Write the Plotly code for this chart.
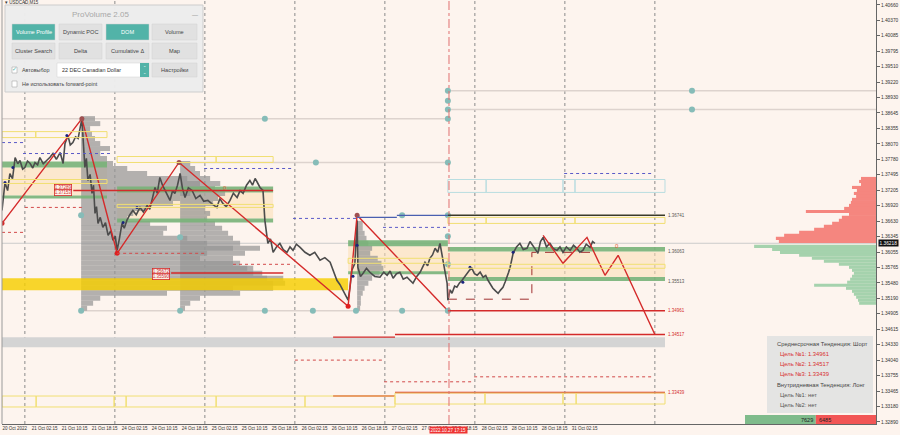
import plotly.graph_objects as go

# ---------------- data ----------------
H_MAX = 233.07                      # chart hours shown (20 Oct 02:15 = 0)
P_MIN, P_MAX = 1.32851, 1.40750

time_tick_hours = [0, 8, 16, 24, 32, 40, 48, 56, 64, 72, 80, 88, 96, 104, 112, 120, 128, 136, 144, 152]
time_tick_labels = ["20 Oct 2022", "21 Oct 02:15", "21 Oct 10:15", "21 Oct 18:15", "24 Oct 02:15",
                    "24 Oct 10:15", "24 Oct 18:15", "25 Oct 02:15", "25 Oct 10:15", "25 Oct 18:15",
                    "26 Oct 02:15", "26 Oct 10:15", "26 Oct 18:15", "27 Oct 02:15", "27 Oct 10:15",
                    "27 Oct 18:15", "28 Oct 02:15", "28 Oct 10:15", "28 Oct 18:15", "31 Oct 02:15"]
price_ticks = [1.40660, 1.40370, 1.40085, 1.39795, 1.39510, 1.39220, 1.38930, 1.38645, 1.38355, 1.38070,
               1.37780, 1.37495, 1.37205, 1.36920, 1.36630, 1.36345, 1.36055, 1.35765, 1.35480, 1.35190,
               1.34905, 1.34615, 1.34330, 1.34040, 1.33755, 1.33465, 1.33180, 1.32890]
day_separators = [6.1, 30.1, 54.1, 78.1, 102.1, 126.1, 150.1, 174.1]
signal_time = 119.2
signal_label = "2022.10.27 17:15"
current_price = 1.36218

price_h = [0.0, 0.8, 1.5, 2.1, 2.8, 3.5, 4.2, 4.8, 5.5, 6.1, 6.8, 7.5, 8.2, 8.8, 9.5, 10.1, 11.0, 12.0, 12.8, 13.6,
           14.5, 15.5, 16.3, 16.8, 17.6, 18.2, 18.9, 19.6, 20.3, 21.3, 21.6, 22.1, 22.5, 22.9, 23.5, 24.0, 24.4,
           24.8, 25.2, 25.6, 26.2, 26.9, 27.6, 28.3, 29.0, 29.6, 30.2, 30.7, 31.3, 32.0, 32.6, 33.3, 34.1, 34.9,
           35.8, 36.8, 37.7, 38.7, 39.4, 40.0, 40.8, 41.4, 42.1, 42.8, 43.5, 44.2, 44.8, 45.5, 46.1, 46.8, 47.5,
           48.1, 48.8, 49.7, 50.7, 51.7, 52.8, 53.8, 54.9, 56.0, 57.3, 58.1, 58.9, 59.8, 60.8, 61.7, 62.7, 63.5,
           64.3, 65.2, 66.1, 66.8, 67.5, 68.1, 68.8, 69.6, 70.1, 70.9, 71.6, 72.3, 73.2, 74.1, 75.0, 76.0, 76.8,
           77.6, 78.5, 79.5, 80.8, 82.1, 83.4, 84.8, 86.1, 87.5, 88.4, 89.3, 90.1, 90.9, 91.6, 92.3, 92.8, 93.3,
           94.1, 94.7, 94.9, 95.6, 96.3, 97.2, 98.1, 99.4, 100.8, 101.8, 102.7, 103.5, 104.3, 105.2, 106.1,
           107.0, 108.0, 108.8, 109.6, 110.6, 111.5, 112.2, 112.8, 113.5, 114.1, 114.8, 115.5, 116.2, 116.8,
           117.6, 118.2, 118.7, 118.9, 119.5, 120.0, 120.7, 121.3, 122.0, 122.7, 123.4, 124.0, 124.7, 125.3,
           126.0, 126.7, 127.5, 128.3, 129.0, 129.6, 130.3, 130.9, 131.6, 132.3, 133.0, 133.6, 134.2, 134.7,
           135.1, 135.5, 135.9, 136.3, 137.2, 138.1, 139.0, 140.0, 140.8, 141.6, 142.3, 142.9, 143.6, 144.3,
           145.2, 146.1, 147.0, 148.0, 148.8, 149.6, 150.5, 151.5, 152.4, 153.3, 154.1, 154.9, 155.8, 156.8,
           157.5, 158.1]
price_p = [1.36830, 1.37351, 1.37200, 1.37518, 1.37420, 1.37815, 1.37700, 1.37760, 1.37600, 1.37630, 1.37750,
           1.37704, 1.37620, 1.37722, 1.37680, 1.37815, 1.37700, 1.37760, 1.37820, 1.37890, 1.37780, 1.37908,
           1.37704, 1.38076, 1.38224, 1.38050, 1.38094, 1.38200, 1.38169, 1.38540, 1.38187, 1.37630, 1.37800,
           1.37388, 1.37500, 1.37146, 1.37300, 1.36774, 1.36900, 1.36588, 1.36700, 1.36514, 1.36600, 1.36365,
           1.36450, 1.36272, 1.36350, 1.36086, 1.36300, 1.36588, 1.36500, 1.36644, 1.36750, 1.36830, 1.36750,
           1.36886, 1.36800, 1.36923, 1.36850, 1.37016, 1.37258, 1.37150, 1.37444, 1.37300, 1.37202, 1.37100,
           1.37016, 1.37200, 1.37146, 1.37300, 1.37518, 1.37250, 1.37072, 1.37250, 1.37202, 1.37050, 1.37109,
           1.37000, 1.37016, 1.36950, 1.36886, 1.37050, 1.36960, 1.36900, 1.37016, 1.37150, 1.37072, 1.37200,
           1.37146, 1.37300, 1.37388, 1.37300, 1.37425, 1.37350, 1.37258, 1.37202, 1.36644, 1.36217, 1.36300,
           1.36049, 1.36150, 1.36217, 1.36100, 1.36049, 1.36150, 1.36086, 1.36200, 1.36142, 1.36050, 1.35994,
           1.36050, 1.35901, 1.35950, 1.35864, 1.35700, 1.35529, 1.35450, 1.35343, 1.35250, 1.35157, 1.35400,
           1.35715, 1.35845, 1.36644, 1.35771, 1.35600, 1.35659, 1.35750, 1.35678, 1.35600, 1.35585, 1.35680,
           1.35622, 1.35700, 1.35566, 1.35650, 1.35678, 1.35550, 1.35585, 1.35520, 1.35473, 1.35600, 1.35678,
           1.35780, 1.35864, 1.35800, 1.35938, 1.36000, 1.36124, 1.36050, 1.36217, 1.35901, 1.35700, 1.35473,
           1.35157, 1.35350, 1.35287, 1.35420, 1.35399, 1.35480, 1.35529, 1.35600, 1.35659, 1.35720, 1.35752,
           1.35650, 1.35622, 1.35680, 1.35585, 1.35620, 1.35529, 1.35450, 1.35380, 1.35330, 1.35287, 1.35350,
           1.35399, 1.35500, 1.35585, 1.35680, 1.35771, 1.35900, 1.36031, 1.36150, 1.36217, 1.36100, 1.36124,
           1.36250, 1.36180, 1.36100, 1.36031, 1.36250, 1.36328, 1.36150, 1.36217, 1.36120, 1.36086, 1.36150,
           1.36049, 1.36150, 1.36086, 1.36180, 1.36124, 1.36050, 1.36086, 1.36200, 1.36142, 1.36250, 1.36217]

zigzag_h = [0.0, 21.3, 30.7, 47.2, 92.3, 94.7, 118.9]
zigzag_p = [1.36589, 1.38540, 1.36031, 1.37723, 1.35046, 1.36741, 1.34961]
forecast_h = [144.3, 149.6, 156.0, 160.8, 164.3, 174.1]
forecast_p = [1.36365, 1.35845, 1.36328, 1.35622, 1.35994, 1.34517]

swing_h = [0.8, 2.9, 17.3, 32.3, 36.0, 94.7, 93.6, 122.9, 124.8, 136.3]
swing_p = [1.37351, 1.37630, 1.38224, 1.36607, 1.36886, 1.36180, 1.35603, 1.35492, 1.35771, 1.36049]

dots_h = [118.9, 118.9, 118.9, 118.9, 118.9, 184.0, 184.0, 70.1, 83.7, 21.1, 47.5, 106.7, 118.9, 118.9,
          118.9, 21.1, 47.5, 70.1, 82.9, 94.4, 106.7, 118.9]
dots_p = [1.39061, 1.38875, 1.38708, 1.38540, 1.37723, 1.39061, 1.38708, 1.38540, 1.37723, 1.36741, 1.36328,
          1.36741, 1.36741, 1.36347, 1.35826, 1.34961, 1.34961, 1.34961, 1.34961, 1.34961, 1.34961, 1.34961]

profile_prices = [1.38540, 1.38447, 1.38354, 1.38262, 1.38169, 1.38076, 1.37983, 1.37890, 1.37797, 1.37704,
                  1.37611, 1.37518, 1.37425, 1.37332, 1.37239, 1.37146, 1.37053, 1.36960, 1.36867, 1.36774,
                  1.36681, 1.36588, 1.36496, 1.36403, 1.36310, 1.36217, 1.36124, 1.36031, 1.35938, 1.35845,
                  1.35752, 1.35659, 1.35566, 1.35473, 1.35380, 1.35287, 1.35194, 1.35101, 1.35008]
profile1_start = 21.1
profile1_len = [3.7, 5.1, 2.4, 2.9, 3.7, 5.1, 7.7, 5.1, 6.9, 8.5, 12.3, 17.6, 28.3, 31.7, 33.6, 29.1, 26.4,
                24.5, 17.6, 13.9, 12.3, 18.4, 22.9, 21.9, 28.3, 33.6, 40.5, 33.6, 31.7, 40.5, 44.3, 45.9,
                49.6, 51.2, 40.5, 22.9, 5.1, 3.2, 1.6]
profile2_start = 47.5
profile2_prices = profile_prices[9:]
profile2_len = [2.7, 4.0, 5.3, 8.0, 10.7, 9.3, 12.0, 10.1, 8.8, 6.7, 8.0, 7.2, 9.3, 11.2, 12.8, 14.1, 16.0,
                21.3, 17.3, 14.1, 16.0, 19.5, 21.9, 27.5, 28.0, 24.8, 16.0, 5.3, 2.7, 1.3]
profile3_start = 94.7
profile3_prices = profile_prices[21:]
profile3_len = [1.5, 1.5, 2.0, 2.5, 3.0, 4.0, 3.5, 5.5, 6.5, 7.0, 6.0, 4.0, 3.0, 2.0, 1.5, 1.0, 1.0, 0.8]

dom_ask_prices = [1.37425, 1.37369, 1.37313, 1.37258, 1.37202, 1.37146, 1.37090, 1.37035, 1.36979, 1.36923,
                  1.36867, 1.36811, 1.36756, 1.36700, 1.36644, 1.36588, 1.36533, 1.36477, 1.36421, 1.36365,
                  1.36310, 1.36254]
dom_ask_size = [4.0, 4.5, 4.0, 6.4, 5.1, 5.9, 5.3, 6.4, 6.7, 7.2, 8.5, 18.7, 7.2, 9.1, 9.9, 11.7, 13.9, 16.5,
                20.5, 24.5, 26.7, 25.9]
dom_bid_prices = [1.36161, 1.36105, 1.36049, 1.35994, 1.35938, 1.35882, 1.35826, 1.35771, 1.35715, 1.35659,
                  1.35603, 1.35548, 1.35492, 1.35436, 1.35380, 1.35324, 1.35269, 1.35213, 1.35157, 1.35101]
dom_bid_size = [32.5, 27.7, 25.6, 20.5, 17.1, 13.9, 9.9, 7.2, 6.4, 5.9, 6.4, 6.9, 7.7, 16.5, 8.0, 6.4, 5.9,
                5.3, 4.8, 4.5]
dom_buy_total, dom_sell_total = 7629, 6485

zone_start = [0.0, 30.7, 92.3, 118.9]
zone_end = [28.0, 72.3, 118.9, 176.8]
zone_top_hi = [1.37741, 1.37276, 1.36272, 1.36150]
zone_top_lo = [1.37630, 1.37165, 1.36161, 1.36063]
zone_bot_hi = [1.37109, 1.36681, 1.35696, 1.35590]
zone_bot_lo = [1.37053, 1.36607, 1.35641, 1.35513]
yellow_band = (0.0, 92.3, 1.35566, 1.35343)
gray_band = (0.0, 176.8, 1.34469, 1.34283)

yellow_boxes = [(0, 9.0, 1.38298, 1.38187), (9.0, 28.0, 1.38298, 1.38187), (0, 28.0, 1.37406, 1.37332),
                (30.7, 57.1, 1.37834, 1.37723), (57.1, 72.3, 1.37834, 1.37723), (30.7, 72.3, 1.36942, 1.36886),
                (118.9, 129.1, 1.36700, 1.36588), (129.1, 149.6, 1.36700, 1.36588),
                (149.6, 152.8, 1.36700, 1.36588), (152.8, 176.8, 1.36700, 1.36588),
                (92.3, 118.9, 1.35938, 1.35845), (118.9, 176.8, 1.35826, 1.35752),
                (0, 9.1, 1.33372, 1.33168), (9.1, 29.9, 1.33372, 1.33168), (29.9, 33.1, 1.33372, 1.33168),
                (33.1, 57.1, 1.33372, 1.33168), (57.1, 80.8, 1.33372, 1.33168), (80.8, 104.8, 1.33372, 1.33168),
                (104.8, 128.8, 1.33428, 1.33223), (128.8, 149.6, 1.33428, 1.33223),
                (149.6, 153.1, 1.33428, 1.33223), (153.1, 176.8, 1.33428, 1.33223)]
cyan_boxes = [(118.9, 129.1, 1.37406, 1.37165), (129.1, 149.6, 1.37406, 1.37165),
              (149.6, 152.8, 1.37406, 1.37165), (152.8, 176.8, 1.37406, 1.37165)]

gray_levels = [(118.9, H_MAX, 1.39061), (118.9, H_MAX, 1.38708), (0.0, 118.9, 1.38540),
               (47.2, 118.9, 1.37723), (21.1, 118.9, 1.34961)]
red_levels = [(118.9, 176.8, 1.34961), (88.3, 104.8, 1.34469), (104.8, 176.8, 1.34517),
              (88.3, 104.8, 1.33372), (104.8, 176.8, 1.33439), (19.0, 72.3, 1.37202), (45.1, 75.0, 1.35665)]
red_dotted = [(78.1, 101.9, 1.34041), (101.9, 125.9, 1.33637), (125.9, 173.9, 1.33730), (0, 5.6, 1.36421),
              (6.1, 21.3, 1.36886), (30.7, 53.9, 1.36031), (61.6, 77.6, 1.35826)]
blue_dotted = [(0, 5.6, 1.38094), (5.6, 29.6, 1.37890), (53.9, 77.6, 1.37611), (77.6, 94.7, 1.36681),
               (101.6, 118.9, 1.36514), (149.9, 173.9, 1.37518)]
blue_solid = [(94.7, 105.3, 1.36700), (105.3, 118.9, 1.36737)]
dark_solid = [(118.9, 176.8, 1.36741)]
range_path_h = [118.9, 141.3, 141.3, 157.5]
range_path_p = [1.35176, 1.35176, 1.36049, 1.36049]

level_labels = [("1.36741", 1.36741, "#555555"), ("1.36063", 1.36063, "#555555"), ("1.35513", 1.35513, "#555555"),
                ("1.34961", 1.34961, "#d42a2a"), ("1.34517", 1.34517, "#d42a2a"), ("1.33439", 1.33439, "#d42a2a")]
box_labels = [("1.37289", 16.3, 1.37257), ("1.37153", 16.3, 1.37165), ("1.35672", 42.5, 1.35700),
              ("1.35590", 42.5, 1.35605)]
zero_marks = [(59.5, 1.37239), (164.0, 1.36170)]

# ---------------- styling helpers ----------------
FONT = "Liberation Sans, Arial, sans-serif"
BG = "#fdf4ee"
RED = "#d42a2a"
W_PLOT, H_PLOT = 874, 424


def px(X):
    return (X - 2) / W_PLOT


def py(Y):
    return 1 - Y / H_PLOT


shapes = []
annotations = []


def hline(h0, h1, p, color, width=1, dash="solid", layer="above"):
    shapes.append(dict(type="line", xref="x", yref="y", x0=h0, x1=h1, y0=p, y1=p,
                       line=dict(color=color, width=width, dash=dash), layer=layer))


def drect(h0, h1, p0, p1, fill="rgba(0,0,0,0)", line_color=None, lw=1, layer="above"):
    shapes.append(dict(type="rect", xref="x", yref="y", x0=h0, x1=h1, y0=p0, y1=p1, fillcolor=fill,
                       line=dict(color=line_color or "rgba(0,0,0,0)", width=lw if line_color else 0),
                       layer=layer))


def prect(X0, X1, Y0, Y1, fill, line_color=None, lw=1):
    shapes.append(dict(type="rect", xref="paper", yref="paper", x0=px(X0), x1=px(X1), y0=py(Y1), y1=py(Y0),
                       fillcolor=fill, line=dict(color=line_color or "rgba(0,0,0,0)",
                                                 width=lw if line_color else 0), layer="above"))


def ptext(X, Y, text, size=6, color="#444", anchor="left"):
    annotations.append(dict(xref="paper", yref="paper", x=px(X), y=py(Y), text=text,
                            showarrow=False, xanchor=anchor, yanchor="middle",
                            font=dict(family=FONT, size=size, color=color)))


fig = go.Figure()

# background zones (under profiles)
for i in range(len(zone_start)):
    drect(zone_start[i], zone_end[i], zone_bot_hi[i], zone_top_lo[i], fill="rgba(252,223,180,0.55)", layer="below")
drect(gray_band[0], gray_band[1], gray_band[2], gray_band[3], fill="#d4d4d4", layer="below")
for d in day_separators:
    shapes.append(dict(type="line", xref="x", yref="paper", x0=d, x1=d, y0=0, y1=1,
                       line=dict(color="#8a8a8a", width=1, dash="dot"), layer="below"))
hline(0, H_MAX, current_price, "#cccccc", 1, layer="below")
for h0, h1, p in gray_levels:
    hline(h0, h1, p, "#ddd3ce", 1.5, layer="below")

# volume profiles
for start, prices, lens in [(profile1_start, profile_prices, profile1_len),
                            (profile2_start, profile2_prices, profile2_len),
                            (profile3_start, profile3_prices, profile3_len)]:
    fig.add_trace(go.Bar(orientation="h", y=prices, x=lens, base=start, width=0.00093,
                         marker=dict(color="rgba(150,150,150,0.72)", line=dict(width=0)), hoverinfo="skip"))

# DOM
fig.add_trace(go.Bar(orientation="h", y=dom_ask_prices, x=[-v for v in dom_ask_size], base=H_MAX, width=0.00058,
                     marker=dict(color="#f5867f", line=dict(width=0)), hoverinfo="skip"))
fig.add_trace(go.Bar(orientation="h", y=dom_bid_prices, x=[-v for v in dom_bid_size], base=H_MAX, width=0.00058,
                     marker=dict(color="#a5d2ad", line=dict(width=0)), hoverinfo="skip"))


def rect_trace(rects, color):
    xs, ys = [], []
    for h0, h1, p0, p1 in rects:
        xs += [h0, h1, h1, h0, h0, None]
        ys += [p0, p0, p1, p1, p0, None]
    fig.add_trace(go.Scatter(x=xs, y=ys, mode="lines", fill="toself", fillcolor=color,
                             line=dict(width=0), hoverinfo="skip"))


rect_trace([yellow_band], "rgba(247,206,0,0.82)")
green_rects = []
for i in range(len(zone_start)):
    green_rects.append((zone_start[i], zone_end[i], zone_top_lo[i], zone_top_hi[i]))
    green_rects.append((zone_start[i], zone_end[i], zone_bot_lo[i], zone_bot_hi[i]))
rect_trace(green_rects, "rgba(120,178,120,0.9)")

# level lines
for h0, h1, p in red_levels:
    hline(h0, h1, p, RED, 1.4)
for h0, h1, p in red_dotted:
    hline(h0, h1, p, "#d24a4a", 1, "dot")
for h0, h1, p in blue_dotted:
    hline(h0, h1, p, "#5a5ac8", 1, "dot")
for h0, h1, p in blue_solid:
    hline(h0, h1, p, "#4a5fb0", 1.4)
for h0, h1, p in dark_solid:
    hline(h0, h1, p, "#3a3a2a", 1.4)
for h0, h1, p0, p1 in yellow_boxes:
    drect(h0, h1, p0, p1, line_color="#f1df72", lw=1)
for h0, h1, p0, p1 in cyan_boxes:
    drect(h0, h1, p0, p1, line_color="#b9dde0", lw=1)
shapes.append(dict(type="line", xref="x", yref="paper", x0=signal_time, x1=signal_time, y0=0, y1=1,
                   line=dict(color="#e07070", width=1, dash="dashdot"), layer="above"))

# price, zigzag, markers
fig.add_trace(go.Scatter(x=range_path_h, y=range_path_p, mode="lines",
                         line=dict(color="#a03030", width=1, dash="dash"), hoverinfo="skip"))
fig.add_trace(go.Scatter(x=price_h, y=price_p, mode="lines", line=dict(color="#4c4c4c", width=1.6),
                         hoverinfo="skip"))
fig.add_trace(go.Scatter(x=zigzag_h, y=zigzag_p, mode="lines+markers", line=dict(color=RED, width=1.4),
                         marker=dict(size=5, color=["#d42a2a", "#a05050", "#e02020", "#a05050", "#e02020", "#a05050",
                                                    "#5c9aa0"]), hoverinfo="skip"))
fig.add_trace(go.Scatter(x=forecast_h, y=forecast_p, mode="lines", line=dict(color=RED, width=1.4),
                         hoverinfo="skip"))
fig.add_trace(go.Scatter(x=swing_h, y=swing_p, mode="markers", marker=dict(size=3, color="#1a237e"),
                         hoverinfo="skip"))
fig.add_trace(go.Scatter(x=dots_h, y=dots_p, mode="markers", marker=dict(size=6, color="#86bcb8"),
                         hoverinfo="skip"))

# level labels
for text, p, color in level_labels:
    annotations.append(dict(x=177.2, y=p, xref="x", yref="y", text=text, showarrow=False, xanchor="left",
                            yanchor="middle", font=dict(family=FONT, size=4.5, color=color)))
for text, h, p in box_labels:
    annotations.append(dict(x=h, y=p, xref="x", yref="y", text=text, showarrow=False, xanchor="center",
                            yanchor="middle", bordercolor=RED, borderwidth=0.8, borderpad=0,
                            bgcolor="rgba(253,244,238,0.9)", font=dict(family=FONT, size=4.5, color=RED)))
for h, p in zero_marks:
    annotations.append(dict(x=h, y=p, xref="x", yref="y", text="0", showarrow=False,
                            font=dict(family=FONT, size=6, color="#e0603a")))

# current price & signal time labels
annotations.append(dict(xref="paper", yref="y", x=1, y=current_price, text="1.36218", showarrow=False,
                        xanchor="left", yanchor="middle", xshift=2, bgcolor="#111111", borderpad=0.5,
                        font=dict(family=FONT, size=4.8, color="white")))
annotations.append(dict(xref="x", yref="paper", x=signal_time, y=0, text=signal_label, showarrow=False,
                        xanchor="center", yanchor="top", yshift=-1.5, bgcolor="#ee3333", borderpad=0.5,
                        font=dict(family=FONT, size=4.5, color="white")))

# DOM totals bar
split = 745 + (876 - 745) * dom_buy_total / (dom_buy_total + dom_sell_total)
prect(745, split, 415, 424, "#7fbb8b")
prect(split, 876, 415, 424, "#f25555")
ptext(split - 1, 419.5, str(dom_buy_total), 5.5, "#222", "right")
ptext(split + 1, 419.5, str(dom_sell_total), 5.5, "#222", "left")

# info box
prect(767, 873, 336, 413, "rgba(226,226,226,0.93)")
ptext(775, 344, "Среднесрочная Тенденция: Шорт", 5.8, "#444")
ptext(778, 354, "Цель №1: 1.34961", 5.8, "#d83030")
ptext(778, 364, "Цель №2: 1.34517", 5.8, "#d83030")
ptext(778, 374, "Цель №3: 1.33439", 5.8, "#d83030")
ptext(775, 385, "Внутридневная Тенденция: Лонг", 5.8, "#444")
ptext(778, 395, "Цель №1: нет", 5.8, "#555")
ptext(778, 405, "Цель №2: нет", 5.8, "#555")

# top-left symbol + ProVolume panel
ptext(3, 2.5, "▾ USDCAD,M15", 4.5, "#333")
prect(5, 203, 5, 92, "rgba(236,236,236,0.97)", "#cdcdcd")
ptext(100, 14, "ProVolume 2.05", 8, "#a8a8a8", "center")
ptext(195, 15, "—", 6, "#888", "center")
buttons = [(12, 55, 24, 40, "Volume Profile", True), (59, 102, 24, 40, "Dynamic POC", False),
           (106, 149, 24, 40, "DOM", True), (152, 197, 24, 40, "Volume", False),
           (12, 55, 43, 59, "Cluster Search", False), (59, 102, 43, 59, "Delta", False),
           (106, 149, 43, 59, "Cumulative Δ", False), (152, 197, 43, 59, "Map", False)]
for X0, X1, Y0, Y1, label, active in buttons:
    prect(X0, X1, Y0, Y1, "#52b3a8" if active else "#e1e1e1", "#d0d0d0", 0.5)
    ptext((X0 + X1) / 2, (Y0 + Y1) / 2, label, 5.6, "white" if active else "#444", "center")
prect(57, 149, 63, 77, "white", "#d0d0d0", 0.5)
prect(140, 149, 63, 77, "#52b3a8")
ptext(144.5, 70, "⌃<br>⌄", 3.5, "white", "center")
ptext(60, 70, "22 DEC Canadian Dollar", 5.4, "#333")
prect(152, 197, 63, 77, "#e1e1e1", "#d0d0d0", 0.5)
ptext(174.5, 70, "Настройки", 5.6, "#444", "center")
prect(12, 17, 67, 73, "white", "#9a9a9a", 0.5)
ptext(14.5, 69, "✓", 6, "#52b3a8", "center")
ptext(20, 70, "Автовыбор", 5.4, "#444")
prect(12, 17, 81, 87, "white", "#9a9a9a", 0.5)
ptext(20, 84, "Не использовать forward-point", 5.4, "#444")

# left border
shapes.append(dict(type="line", xref="paper", yref="paper", x0=0, x1=0, y0=0, y1=1,
                   line=dict(color="#9a9a9a", width=1), layer="above"))

fig.update_layout(
    width=900, height=435, margin=dict(l=2, r=24, t=0, b=11),
    paper_bgcolor=BG, plot_bgcolor=BG, showlegend=False, barmode="overlay", hovermode=False,
    shapes=shapes, annotations=annotations,
    xaxis=dict(range=[0, H_MAX], showgrid=False, zeroline=False, showline=True, linecolor="#666", linewidth=1,
               tickvals=[t + 3.4 for t in time_tick_hours], ticktext=time_tick_labels, ticks="",
               tickfont=dict(family=FONT, size=4.5, color="#333")),
    yaxis=dict(range=[P_MIN, P_MAX], side="right", showgrid=False, zeroline=False, showline=True,
               linecolor="#666", linewidth=1, tickvals=price_ticks, ticktext=["%.5f" % v for v in price_ticks],
               ticks="outside", ticklen=3, tickcolor="#666",
               tickfont=dict(family=FONT, size=4.8, color="#333")),
)

fig.write_html("out.html", config={"displayModeBar": False},
               post_script="document.body.style.margin='0px';document.body.style.padding='0px';"
                           "document.body.style.background='" + BG + "';")
